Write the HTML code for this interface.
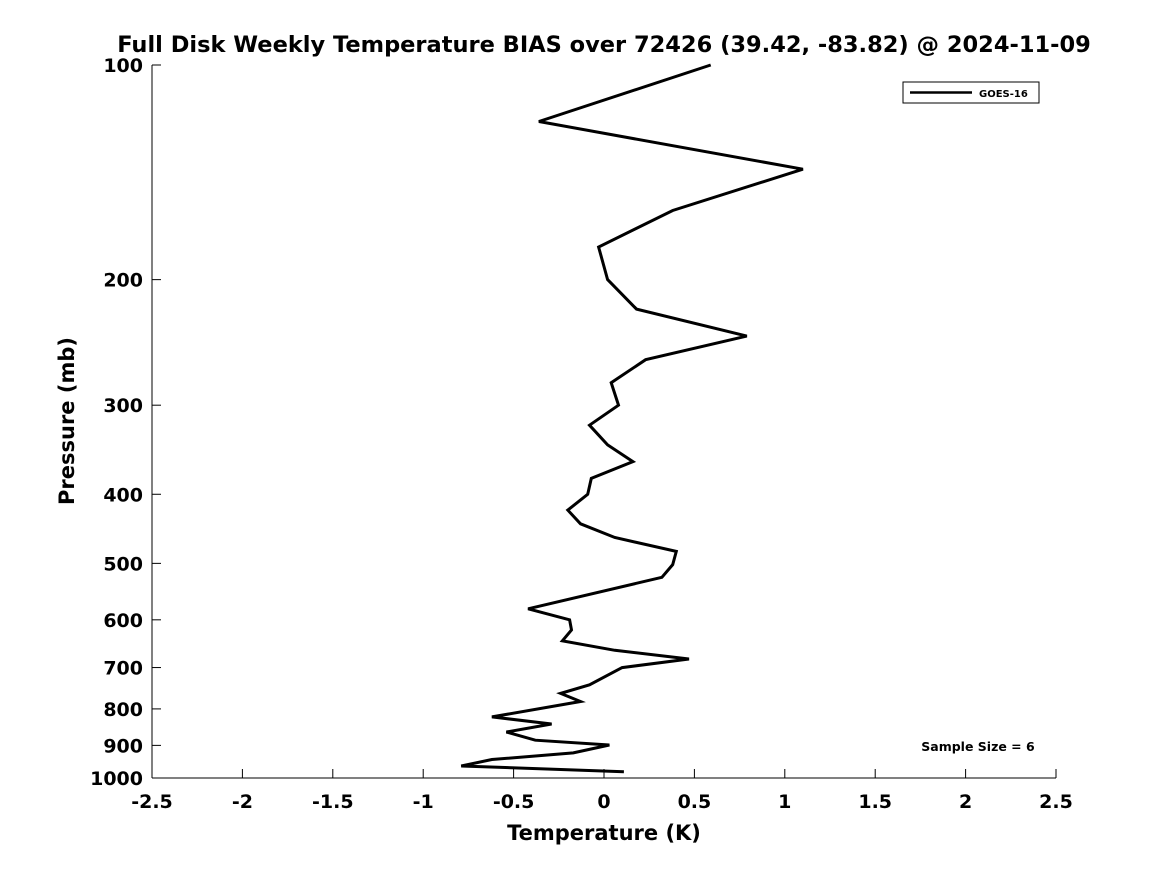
<!DOCTYPE html>
<html><head><meta charset="utf-8"><style>
body{margin:0;background:#fff}
svg text{font-family:"DejaVu Sans","Liberation Sans",sans-serif;font-weight:bold;fill:#000}
</style></head><body>
<svg id="chart" width="1167" height="875" xmlns="http://www.w3.org/2000/svg">
<rect width="1167" height="875" fill="#fff"/>
<text x="604" y="52" font-size="22.5" text-anchor="middle">Full Disk Weekly Temperature BIAS over 72426 (39.42, -83.82) @ 2024-11-09</text>
<g id="axes"></g>
<text x="604" y="840" font-size="21" text-anchor="middle">Temperature (K)</text>
<text transform="translate(74,421) rotate(-90)" font-size="21" text-anchor="middle">Pressure (mb)</text>
<g>
<rect x="903" y="82" width="136" height="21" fill="#fff" stroke="#000" stroke-width="1"/>
<line x1="910" y1="92.5" x2="972" y2="92.5" stroke="#000" stroke-width="2.5"/>
<text x="979" y="97" font-size="10">GOES-16</text>
</g>
<text x="978" y="751" font-size="12.5" text-anchor="middle">Sample Size = 6</text>
</svg>
<script>
const pressures=[100,120,140,160,180,200,220,240,259,279,300,320,341,360,380,400,421,440,460,481,502,523,579,600,620,642,662,681,700,740,761,781,821,840,862,885,899,922,942,962,980];
const bias=[0.59,-0.36,1.10,0.38,-0.03,0.02,0.18,0.79,0.23,0.04,0.08,-0.08,0.02,0.16,-0.07,-0.09,-0.20,-0.13,0.06,0.40,0.38,0.32,-0.42,-0.19,-0.18,-0.23,0.06,0.47,0.10,-0.08,-0.24,-0.13,-0.62,-0.29,-0.54,-0.38,0.03,-0.17,-0.62,-0.79,0.11];
const xTicks=[-2.5,-2,-1.5,-1,-0.5,0,0.5,1,1.5,2,2.5];
const yTicks=[100,200,300,400,500,600,700,800,900,1000];
const X0=152,X1=1056,Y0=65,Y1=778;
const xs=v=>X0+(v+2.5)/5*(X1-X0);
const ys=p=>Y0+Math.log10(p/100)*(Y1-Y0);
const NS="http://www.w3.org/2000/svg";
const g=document.getElementById('axes');
function mk(t,a){const e=document.createElementNS(NS,t);for(const k in a)e.setAttribute(k,a[k]);return e;}
const xa=mk('line',{x1:X0,y1:Y1,x2:X1,y2:Y1,stroke:'#000','stroke-width':1});


g.appendChild(xa);
const ya=mk('line',{x1:X0,y1:Y0,x2:X0,y2:Y1,stroke:'#000','stroke-width':1});


g.appendChild(ya);
xTicks.forEach(v=>{const x=xs(v);
 g.appendChild(mk('line',{x1:x,y1:Y1,x2:x,y2:Y1-9,stroke:'#000','stroke-width':1}));
 const t=mk('text',{x:x,y:808,'font-size':19,'text-anchor':'middle'});t.textContent=String(v);
 
 
 g.appendChild(t);});
yTicks.forEach(p=>{const y=ys(p);
 g.appendChild(mk('line',{x1:X0,y1:y,x2:X0+9,y2:y,stroke:'#000','stroke-width':1}));
 const t=mk('text',{x:143,y:y+7,'font-size':19,'text-anchor':'end'});t.textContent=String(p);
 
 
 g.appendChild(t);});
const pts=pressures.map((p,i)=>xs(bias[i]).toFixed(1)+','+ys(p).toFixed(1)).join(' ');
const line=mk('polyline',{points:pts,fill:'none',stroke:'#000','stroke-width':3,'stroke-linejoin':'miter'});


g.appendChild(line);
</script>
</body></html>
